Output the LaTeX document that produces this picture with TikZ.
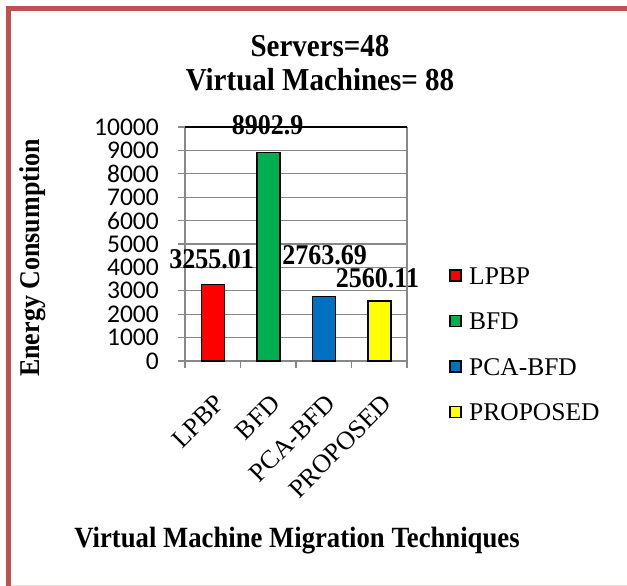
\documentclass[tikz,border=0pt]{standalone}
\usepackage{fontspec}
\setmainfont{Liberation Serif}
\newfontfamily\calib{Carlito}
\newcommand{\vstr}[1]{\scalebox{1}[1.1]{#1}}
\definecolor{frameRed}{HTML}{C0504D}
\definecolor{framePink}{HTML}{F2DCDB}
\definecolor{barRed}{HTML}{FF0000}
\definecolor{barGreen}{HTML}{00B050}
\definecolor{barBlue}{HTML}{0070C0}
\definecolor{barYellow}{HTML}{FFFF00}
\definecolor{gridGray}{HTML}{888888}
\begin{document}
\begin{tikzpicture}[x=1pt,y=-1pt,
  grid/.style={draw=gridGray, line width=1.1pt},
  bar/.style={draw=black, line width=1.3pt},
  ticklab/.style={anchor=east, inner sep=0pt, font=\calib\fontsize{25.5}{25.5}\selectfont},
  datalab/.style={anchor=base, inner sep=0pt, font=\bfseries\fontsize{26}{26}\selectfont},
  catlab/.style={rotate=45, anchor=north east, inner sep=0pt, font=\fontsize{26}{26}\selectfont},
  legbox/.style={draw=black, line width=1.1pt, minimum size=11pt, inner sep=0pt},
  legtext/.style={anchor=base west, inner sep=0pt, font=\fontsize{25.5}{25.5}\selectfont},
  titletext/.style={inner sep=0pt, font=\bfseries\fontsize{29}{29}\selectfont}]
\useasboundingbox (0,0) rectangle (627,586);
% frame
\draw[framePink, line width=1pt] (8,585) -- (627,585);
\draw[frameRed, line width=4.5pt] (8.5,586) -- (8.5,8.5) -- (627,8.5);
% titles
\node[titletext] (t1) at (320,46) {\vstr{Servers=48}};
\node[titletext] (t2) at (320,80) {\vstr{Virtual Machines= 88}};
% grid
\foreach \v in {0,...,9} {
  \draw[grid] (178,{361-23.4*\v}) -- (407,{361-23.4*\v});
}
\draw[grid] (178,127) -- (185,127);
\draw[grid] (185,127) -- (185,361);
\draw[grid] (407,127) -- (407,361);
\draw[black, line width=1.6pt] (185,127) -- (407,127);
\foreach \x in {185,240.5,296,351.5,407} {
  \draw[grid] (\x,361) -- (\x,368);
}
% tick labels
\foreach \v/\lab in {0/0,1/1000,2/2000,3/3000,4/4000,5/5000,6/6000,7/7000,8/8000,9/9000,10/10000} {
  \node[ticklab] (y\v) at (159,{361-23.4*\v}) {\lab};
}
% bars
\draw[bar, fill=barRed] (201.5,361) rectangle (224.5,284.8);
\draw[bar, fill=barGreen] (257,361) rectangle (280,152.7);
\draw[bar, fill=barBlue] (312.5,361) rectangle (335.5,296.3);
\draw[bar, fill=barYellow] (368,361) rectangle (391,301.1);
% data labels
\node[datalab] (d1) at (211.5,268) {\vstr{3255.01}};
\node[datalab] (d2) at (267.5,135) {\vstr{8902.9}};
\node[datalab] (d3) at (324.5,264) {\vstr{2763.69}};
\node[datalab] (d4) at (377.5,287) {\vstr{2560.11}};
% category labels
\node[catlab] (c1) at (214,393) {LPBP};
\node[catlab] (c2) at (269.5,393) {BFD};
\node[catlab] (c3) at (325,393) {PCA-BFD};
\node[catlab] (c4) at (381,393) {PROPOSED};
% legend
\node[legbox, fill=barRed] (l1) at (455.5,275.5) {};
\node[legbox, fill=barGreen] (l2) at (455.5,321) {};
\node[legbox, fill=barBlue] (l3) at (455.5,366.5) {};
\node[legbox, fill=barYellow] (l4) at (455.5,412) {};
\node[legtext] (lt1) at (469,284) {LPBP};
\node[legtext] (lt2) at (469,329.5) {BFD};
\node[legtext] (lt3) at (469,375) {PCA-BFD};
\node[legtext] (lt4) at (469,420.5) {PROPOSED};
% axis titles
\node[rotate=90, inner sep=0pt, font=\bfseries\fontsize{26}{26}\selectfont] (ya) at (33,258) {\vstr{Energy Consumption}};
\node[inner sep=0pt, font=\bfseries\fontsize{26.7}{26.7}\selectfont] (xa) at (297,541) {\vstr{Virtual Machine Migration Techniques}};
\end{tikzpicture}
\end{document}
